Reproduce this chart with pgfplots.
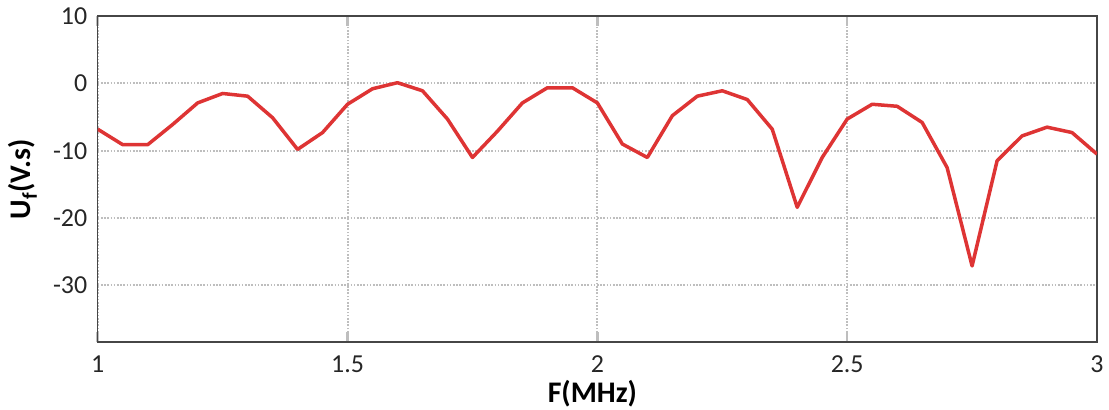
\documentclass[border=0pt]{standalone}
\usepackage{fontspec}
\setmainfont{Carlito}
\usepackage{pgfplots}
\pgfplotsset{compat=1.18}
\definecolor{curve}{RGB}{222,52,52}
\definecolor{gridc}{RGB}{190,190,190}
\definecolor{axc}{RGB}{70,70,70}
\begin{document}
\begin{tikzpicture}
\begin{axis}[
  scale only axis,
  width=999bp, height=326bp,
  xmin=1, xmax=3, ymin=-38.4, ymax=10,
  xtick={1,1.5,2,2.5,3},
  xticklabels={1,1.5,2,2.5,3},
  ytick={-30,-20,-10,0,10},
  yticklabels={-30,-20,-10,0,10},
  axis line style={axc, line width=1.3bp},
  grid=major,
  major grid style={gridc, line width=2bp, dash pattern=on 1.6bp off 1.6bp},
  tick style={gridc, line width=2.5bp},
  major tick length=10bp,
  tick align=inside,
  ytick style={draw=none},
  ticklabel style={font=\fontsize{26}{26}\selectfont, text=black!85},
  xticklabel style={anchor=base, yshift=-30bp},
  yticklabel style={xshift=-7bp},
  xlabel={F(MHz)},
  ylabel={U\textsubscript{f}(V.s)},
  every axis x label/.style={at={(axis description cs:0.5,0)}, yshift=-52bp, xshift=-5bp, anchor=center, font=\bfseries\fontsize{30}{30}\selectfont},
  every axis y label/.style={at={(axis description cs:0,0.5)}, xshift=-75bp, rotate=90, anchor=center, font=\bfseries\fontsize{30}{30}\selectfont},
  clip=true,
]
\addplot[curve, line width=3.5bp, line join=round] coordinates {
(1.00,-6.8) (1.05,-9.1) (1.10,-9.1) (1.15,-6.1) (1.20,-2.9) (1.25,-1.5)
(1.30,-1.9) (1.35,-5.1) (1.40,-9.8) (1.45,-7.3) (1.50,-3.1) (1.55,-0.8)
(1.60,0.1) (1.65,-1.1) (1.70,-5.3) (1.75,-11.0) (1.80,-7.1) (1.85,-2.9)
(1.90,-0.65) (1.95,-0.65) (2.00,-2.9) (2.05,-9.0) (2.10,-11.0) (2.15,-4.8)
(2.20,-1.9) (2.25,-1.1) (2.30,-2.4) (2.35,-6.8) (2.40,-18.4) (2.45,-11.0)
(2.50,-5.3) (2.55,-3.1) (2.60,-3.4) (2.65,-5.8) (2.70,-12.5) (2.75,-27.1)
(2.80,-11.5) (2.85,-7.8) (2.90,-6.5) (2.95,-7.3) (3.00,-10.5)
};
\coordinate (sw) at (rel axis cs:0,0);
\coordinate (ne) at (rel axis cs:1,1);
\end{axis}
\pgfresetboundingbox
\useasboundingbox ([xshift=-97.7bp,yshift=-67.3bp]sw) rectangle ([xshift=12bp,yshift=16bp]ne);
\end{tikzpicture}
\end{document}
